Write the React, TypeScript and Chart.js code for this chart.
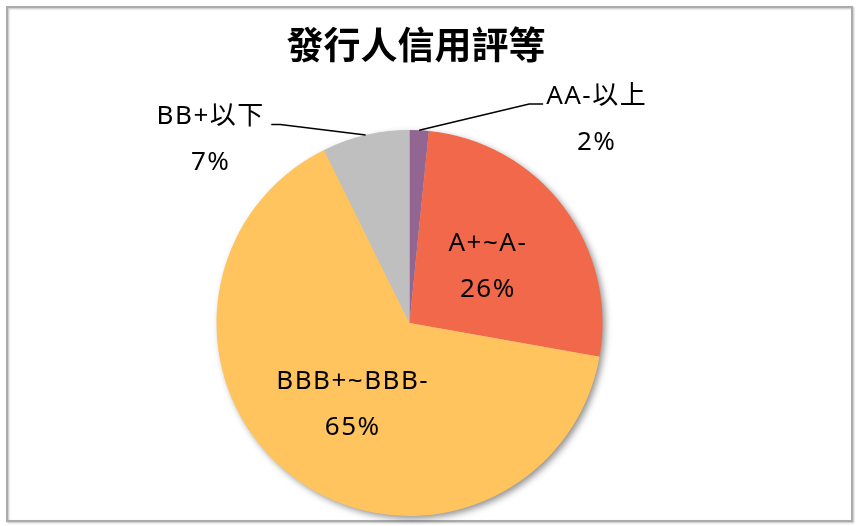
import { useEffect, useRef } from 'react';
import { Chart, registerables } from 'chart.js';

Chart.register(...registerables);

const chartTitle = '發行人信用評等';
const categories = ['AA-以上', 'A+~A-', 'BBB+~BBB-', 'BB+以下'];
const shares = [1.6, 26.2, 64.9, 7.3];
const sliceColors = ['#936592', '#F2684A', '#FFC45E', '#BFBFBF'];

// label block centre, in units of the pie radius, relative to the pie centre
const labelOffsets = [
  { dx: 0.966, dy: -1.052, outside: true, side: 'right' },
  { dx: 0.402, dy: -0.29, outside: false, side: '' },
  { dx: -0.298, dy: 0.425, outside: false, side: '' },
  { dx: -1.034, dy: -0.951, outside: true, side: 'left' },
];

const LABEL_FONT = '26px "Noto Sans", "Noto Sans CJK TC", sans-serif';
const LETTER_SPACING = 1.5;
const LINE_GAP = 46;

const decorPlugin = {
  id: 'decor',
  beforeDraw(chart: any) {
    const ctx = chart.ctx;
    ctx.save();
    ctx.fillStyle = '#ffffff';
    ctx.fillRect(0, 0, chart.width, chart.height);
    ctx.shadowColor = 'rgba(0,0,0,0.25)';
    ctx.shadowBlur = 2;
    ctx.shadowOffsetX = 1;
    ctx.shadowOffsetY = 1;
    ctx.strokeStyle = '#ABABAB';
    ctx.lineWidth = 2;
    ctx.strokeRect(7, 7, 845, 514);
    ctx.restore();

    ctx.save();
    ctx.fillStyle = '#000000';
    ctx.font = 'bold 37px "Noto Sans CJK TC", sans-serif';
    ctx.textAlign = 'center';
    ctx.textBaseline = 'middle';
    ctx.fillText(chartTitle, 416, 45);
    ctx.restore();
  },
  beforeDatasetsDraw(chart: any) {
    const meta = chart.getDatasetMeta(0);
    const el = meta.data[0];
    if (!el) return;
    const { x, y, outerRadius } = el.getProps(['x', 'y', 'outerRadius'], true);
    const ctx = chart.ctx;
    ctx.save();
    ctx.shadowColor = 'rgba(0,0,0,0.45)';
    ctx.shadowBlur = 7;
    ctx.shadowOffsetX = 3;
    ctx.shadowOffsetY = 3;
    ctx.fillStyle = '#BFBFBF';
    ctx.beginPath();
    ctx.arc(x, y, outerRadius - 0.5, 0, Math.PI * 2);
    ctx.fill();
    ctx.restore();
  },
  afterDatasetsDraw(chart: any) {
    const meta = chart.getDatasetMeta(0);
    const ctx = chart.ctx;
    const total = shares.reduce((a, b) => a + b, 0);
    meta.data.forEach((el: any, i: number) => {
      const { x, y, startAngle, endAngle, outerRadius } = el.getProps(
        ['x', 'y', 'startAngle', 'endAngle', 'outerRadius'],
        true
      );
      const off = labelOffsets[i];
      const cx = x + off.dx * outerRadius;
      const cy = y + off.dy * outerRadius;
      const line1 = categories[i];
      const line2 = Math.round((shares[i] / total) * 100) + '%';
      ctx.save();
      ctx.font = LABEL_FONT;
      (ctx as any).letterSpacing = LETTER_SPACING + 'px';
      ctx.fillStyle = '#000000';
      ctx.textAlign = 'center';
      ctx.textBaseline = 'middle';
      const y1 = cy - LINE_GAP / 2;
      const y2 = cy + LINE_GAP / 2;
      const sx = cx + LETTER_SPACING / 2;
      ctx.fillText(line1, sx, y1);
      ctx.fillText(line2, sx, y2);
      if (off.outside) {
        const w = ctx.measureText(line1).width - LETTER_SPACING;
        const mid = (startAngle + endAngle) / 2;
        const ex = x + Math.cos(mid) * outerRadius;
        const ey = y + Math.sin(mid) * outerRadius;
        ctx.strokeStyle = '#000000';
        ctx.lineWidth = 1.5;
        ctx.beginPath();
        ctx.moveTo(ex, ey);
        if (off.side === 'right') {
          const left = cx - w / 2;
          ctx.lineTo(left - 17, y1 + 7);
          ctx.lineTo(left - 3, y1 + 7);
        } else {
          const right = cx + w / 2;
          ctx.lineTo(right + 17, y1 + 8);
          ctx.lineTo(right + 8, y1 + 8);
        }
        ctx.stroke();
      }
      ctx.restore();
    });
  },
};

export default function App() {
  const ref = useRef<HTMLCanvasElement | null>(null);
  useEffect(() => {
    if (!ref.current) return;
    const chart = new Chart(ref.current, {
      type: 'pie',
      data: {
        labels: categories,
        datasets: [
          {
            data: shares,
            backgroundColor: sliceColors,
            borderWidth: 0,
            hoverOffset: 0,
          },
        ],
      },
      options: {
        responsive: false,
        animation: false,
        devicePixelRatio: 1,
        layout: { padding: { top: 130, bottom: 10, left: 216.5, right: 253.5 } },
        plugins: {
          legend: { display: false },
          title: { display: false },
          tooltip: { enabled: false },
        },
      },
      plugins: [decorPlugin],
    });
    return () => chart.destroy();
  }, []);
  return (
    <div style={{ position: 'absolute', left: 0, top: 0, width: 856, height: 526 }}>
      <canvas ref={ref} width={856} height={526} style={{ display: 'block' }} />
    </div>
  );
}
